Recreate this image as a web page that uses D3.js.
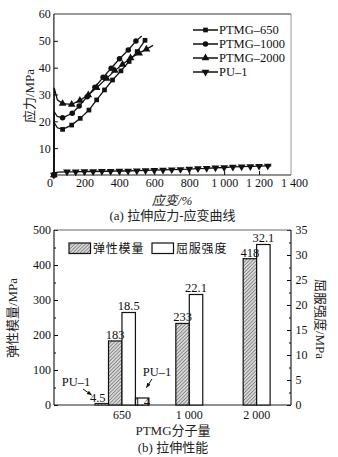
<!DOCTYPE html>
<html>
<head>
<meta charset="utf-8">
<script src="https://cdn.jsdelivr.net/npm/d3@7"></script>
<style>
  body { margin: 0; background: #fff; }
  svg { display: block; }
</style>
</head>
<body>
<main></main>
<script>
// ---- data: (a) stress-strain curves, [strain %, stress MPa]
const ptmg650 = [[25, 0], [27, 19.5], [45, 17.6], [75, 17], [127, 18.6], [176, 21.1], [226, 24.2], [270, 28], [315, 31.7], [361, 35.4], [409, 38.8], [456, 42.3], [502, 46], [547, 50.2]]
const ptmg1000 = [[25, 0], [27, 23.5], [45, 21.8], [75, 21.3], [130, 23], [170, 25.7], [216, 29.2], [260, 32.7], [307, 36.4], [353, 39.8], [401, 43.3], [451, 46.6], [495, 49.9], [528, 51.8]]
const ptmg2000 = [[25, 0], [27, 32.5], [45, 28], [75, 26.6], [127, 26.3], [174, 27.8], [222, 29.8], [270, 32.5], [327, 36], [374, 38.9], [418, 41.2], [464, 43.6], [513, 45.4], [555, 46.9], [593, 48.3]]
const pu1 = [[25, 0], [27, 0.8], [50, 1.1], [100, 1.2], [150, 1.2], [200, 1.3], [250, 1.3], [300, 1.4], [350, 1.4], [400, 1.5], [450, 1.5], [500, 1.6], [550, 1.7], [600, 1.8], [650, 1.9], [700, 2.0], [750, 2.1], [800, 2.2], [850, 2.4], [900, 2.5], [950, 2.7], [1000, 2.8], [1050, 3.0], [1100, 3.1], [1150, 3.2], [1200, 3.3], [1250, 3.4], [1270, 3.4]]
const seriesNames = ["PTMG–650", "PTMG–1000", "PTMG–2000", "PU–1"]
const strainTicks = [0, 200, 400, 600, 800, 1000, 1200, 1400]
const stressTicks = [10, 20, 30, 40, 50, 60]

// ---- data: (b) tensile properties
const mwLabels = ["650", "1 000", "2 000"]
const modulus = [183, 233, 418]
const yieldStrength = [18.5, 22.1, 32.1]
const pu1Modulus = 4.5
const pu1Yield = 1.4
const modulusTicks = [0, 100, 200, 300, 400, 500]
const yieldTicks = [0, 5, 10, 15, 20, 25, 30, 35]

const serif = "'Liberation Serif', 'Times New Roman', 'Noto Sans CJK SC', serif"
const W = 338, H = 457

const svg = d3.select("main").append("svg").attr("width", W).attr("height", H)
  .attr("font-family", serif)
svg.append("rect").attr("width", W).attr("height", H).attr("fill", "#fff")

const defs = svg.append("defs")
const hatch = defs.append("pattern").attr("id", "hatch")
  .attr("patternUnits", "userSpaceOnUse").attr("width", 2.5).attr("height", 2.5)
  .attr("patternTransform", "rotate(45)")
hatch.append("rect").attr("width", 2.5).attr("height", 2.5).attr("fill", "#d8d8d8")
hatch.append("line").attr("x1", 0).attr("y1", 0).attr("x2", 0).attr("y2", 2.5)
  .attr("stroke", "#444").attr("stroke-width", 1)

// ================= (a) =================
const x = d3.scaleLinear().domain([0, 1400]).range([49.5, 294])
const y = d3.scaleLinear().domain([0, 60]).range([175, 14])
const xL = x(25), xR = x(1383)

const gA = svg.append("g")

// axes (ticks inward)
const xAxisA = d3.axisBottom(x).tickValues(strainTicks).tickSizeInner(-4).tickSizeOuter(0).tickPadding(3.5)
  .tickFormat(d => d >= 1000 ? d3.format(",")(d).replace(",", " ") : d)
const gxA = gA.append("g").attr("transform", `translate(0,${y(0)})`).call(xAxisA)
gxA.select(".domain").remove()
gxA.selectAll("text").attr("font-size", 12).attr("font-family", serif).attr("fill", "#111")
gxA.selectAll(".tick").filter(d => d === 0 || d === 1400).select("line").remove()

const yAxisA = d3.axisLeft(y).tickValues(stressTicks).tickSizeInner(-4).tickSizeOuter(0).tickPadding(3)
const gyA = gA.append("g").attr("transform", `translate(${xL - x(0)},0)`).call(yAxisA)
gyA.attr("transform", `translate(${xL},0)`)
gyA.select(".domain").remove()
gyA.selectAll("text").attr("font-size", 12).attr("font-family", serif).attr("fill", "#111")
gyA.selectAll(".tick").filter(d => d === 60).select("line").remove()

// frame
gA.append("line").attr("x1", xL).attr("x2", xR).attr("y1", y(60)).attr("y2", y(60)).attr("stroke", "#999").attr("stroke-width", 2)
gA.append("line").attr("x1", xR).attr("x2", xR).attr("y1", y(60)).attr("y2", y(0)).attr("stroke", "#999").attr("stroke-width", 1)
gA.append("line").attr("x1", xL).attr("x2", xL).attr("y1", y(60)).attr("y2", y(0)).attr("stroke", "#222").attr("stroke-width", 1.2)
gA.append("line").attr("x1", xL).attr("x2", xR).attr("y1", y(0)).attr("y2", y(0)).attr("stroke", "#222").attr("stroke-width", 1.2)

const line = d3.line().x(d => x(d[0])).y(d => y(d[1]))
const symbols = [d3.symbolSquare, d3.symbolCircle, d3.symbolTriangle, d3.symbolTriangle]
const symSizes = [22, 24, 26, 26]
const rotations = [0, 0, 0, 180]
const allSeries = [ptmg650, ptmg1000, ptmg2000, pu1]

allSeries.forEach((data, i) => {
  gA.append("path").datum(data).attr("d", line).attr("fill", "none")
    .attr("stroke", "#111").attr("stroke-width", 1.3)
  // markers: skip the yield peak and the final line end
  const marked = data.filter((d, k) => k !== 1 && k !== 2 && !(i !== 0 && k === data.length - 1))
  gA.selectAll(null).data(marked).enter().append("path")
    .attr("d", d3.symbol().type(symbols[i]).size(symSizes[i]))
    .attr("transform", d => `translate(${x(d[0])},${y(d[1])}) rotate(${rotations[i]})`)
    .attr("fill", "#111")
})

// legend
const legA = gA.append("g")
seriesNames.forEach((name, i) => {
  const ly = 30 + i * 14
  legA.append("line").attr("x1", 193).attr("x2", 218).attr("y1", ly).attr("y2", ly)
    .attr("stroke", "#111").attr("stroke-width", 1.5)
  legA.append("path").attr("d", d3.symbol().type(symbols[i]).size(symSizes[i]))
    .attr("transform", `translate(205.5,${ly}) rotate(${rotations[i]})`).attr("fill", "#111")
  legA.append("text").attr("x", 219).attr("y", ly + 4.3).attr("font-size", 12.5).attr("fill", "#111").text(name)
})

gA.append("text").attr("transform", "translate(34,96) rotate(-90)").attr("text-anchor", "middle")
  .attr("font-size", 13).attr("fill", "#222").text("应力/MPa")
gA.append("text").attr("x", 172).attr("y", 204.5).attr("text-anchor", "middle")
  .attr("font-size", 13).attr("font-style", "italic").attr("fill", "#222").text("应变/%")
gA.append("text").attr("x", 172.5).attr("y", 220).attr("text-anchor", "middle")
  .attr("font-size", 13).attr("fill", "#222").text("(a) 拉伸应力-应变曲线")

// ================= (b) =================
const xb = d3.scaleBand().domain(mwLabels).range([88.3, 290.3]).padding(0)
const bw = xb.bandwidth() * 0.2
const yL = d3.scaleLinear().domain([0, 500]).range([405, 230])
const yR = d3.scaleLinear().domain([0, 35]).range([405, 230])
const bL = 54, bR = 291
const cx = k => xb(k) + xb.bandwidth() / 2

const gB = svg.append("g")

const gyL = gB.append("g").attr("transform", `translate(${bL},0)`)
  .call(d3.axisLeft(yL).tickValues(modulusTicks).tickSizeInner(-4).tickSizeOuter(0).tickPadding(3))
gyL.select(".domain").remove()
gyL.selectAll("text").attr("font-size", 12).attr("font-family", serif).attr("fill", "#111")
gB.append("g").attr("transform", `translate(${bL},0)`)
  .call(d3.axisLeft(yL).tickValues([50, 150, 250, 350, 450]).tickSizeInner(-2).tickSizeOuter(0).tickFormat(""))
  .select(".domain").remove()

const gyR = gB.append("g").attr("transform", `translate(${bR},0)`)
  .call(d3.axisRight(yR).tickValues(yieldTicks).tickSizeInner(-4).tickSizeOuter(0).tickPadding(4.5))
gyR.select(".domain").remove()
gyR.selectAll("text").attr("font-size", 12).attr("font-family", serif).attr("fill", "#111")
gB.append("g").attr("transform", `translate(${bR},0)`)
  .call(d3.axisRight(yR).tickValues([2.5, 7.5, 12.5, 17.5, 22.5, 27.5, 32.5]).tickSizeInner(-2).tickSizeOuter(0).tickFormat(""))
  .select(".domain").remove()

const gxB = gB.append("g").attr("transform", `translate(0,${yL(0)})`)
  .call(d3.axisBottom(xb).tickSizeInner(-3).tickSizeOuter(0).tickPadding(5))
gxB.select(".domain").remove()
gxB.selectAll("text").attr("font-size", 12).attr("font-family", serif).attr("fill", "#111")

// frame
gB.append("line").attr("x1", bL).attr("x2", bR).attr("y1", yL(500)).attr("y2", yL(500)).attr("stroke", "#666").attr("stroke-width", 1)
gB.append("line").attr("x1", bL).attr("x2", bL).attr("y1", yL(500)).attr("y2", yL(0)).attr("stroke", "#222").attr("stroke-width", 1.2)
gB.append("line").attr("x1", bR).attr("x2", bR).attr("y1", yL(500)).attr("y2", yL(0)).attr("stroke", "#222").attr("stroke-width", 1.2)
gB.append("line").attr("x1", bL).attr("x2", bR).attr("y1", yL(0)).attr("y2", yL(0)).attr("stroke", "#222").attr("stroke-width", 1.2)

// bars
gB.selectAll(".mod").data(mwLabels).enter().append("rect")
  .attr("x", (d) => cx(d) - bw).attr("width", bw)
  .attr("y", (d, i) => yL(modulus[i])).attr("height", (d, i) => yL(0) - yL(modulus[i]))
  .attr("fill", "url(#hatch)").attr("stroke", "#111").attr("stroke-width", 1.2)
gB.selectAll(".yld").data(mwLabels).enter().append("rect")
  .attr("x", (d) => cx(d)).attr("width", bw)
  .attr("y", (d, i) => yR(yieldStrength[i])).attr("height", (d, i) => yR(0) - yR(yieldStrength[i]))
  .attr("fill", "#fff").attr("stroke", "#111").attr("stroke-width", 1.2)

// PU-1 bars beside the 650 group
const c0 = cx(mwLabels[0])
gB.append("rect").attr("x", c0 - 2 * bw).attr("width", bw)
  .attr("y", yL(pu1Modulus)).attr("height", yL(0) - yL(pu1Modulus))
  .attr("fill", "url(#hatch)").attr("stroke", "#111").attr("stroke-width", 1)
gB.append("rect").attr("x", c0 + bw).attr("width", bw)
  .attr("y", yR(pu1Yield)).attr("height", yR(0) - yR(pu1Yield))
  .attr("fill", "#fff").attr("stroke", "#111").attr("stroke-width", 1.2)

// value labels
mwLabels.forEach((k, i) => {
  gB.append("text").attr("x", cx(k) - bw / 2).attr("y", yL(modulus[i]) - 2)
    .attr("text-anchor", "middle").attr("font-size", 12.5).attr("fill", "#111").text(modulus[i])
  gB.append("text").attr("x", cx(k) + bw / 2).attr("y", yR(yieldStrength[i]) - 2.5)
    .attr("text-anchor", "middle").attr("font-size", 12.5).attr("fill", "#111").text(yieldStrength[i])
})
gB.append("text").attr("x", c0 - 1.5 * bw - 4).attr("y", yL(pu1Modulus) - 1.5)
  .attr("text-anchor", "middle").attr("font-size", 12.5).attr("fill", "#111").text(pu1Modulus)
gB.append("text").attr("x", c0 + 1.5 * bw).attr("y", yR(pu1Yield) + 7.5)
  .attr("text-anchor", "middle").attr("font-size", 12.5).attr("fill", "#111").text(pu1Yield)

// PU-1 annotations with arrows
defs.append("marker").attr("id", "arr").attr("viewBox", "0 0 10 10").attr("refX", 9).attr("refY", 5)
  .attr("markerWidth", 5).attr("markerHeight", 5).attr("orient", "auto")
  .append("path").attr("d", "M0,1 L10,5 L0,9 Z").attr("fill", "#111")
gB.append("text").attr("x", 76).attr("y", 386).attr("text-anchor", "middle")
  .attr("font-size", 12.5).attr("fill", "#111").text("PU–1")
gB.append("line").attr("x1", 83).attr("y1", 389).attr("x2", 91.5).attr("y2", 395)
  .attr("stroke", "#111").attr("stroke-width", 1).attr("marker-end", "url(#arr)")
gB.append("text").attr("x", 157).attr("y", 376).attr("text-anchor", "middle")
  .attr("font-size", 12.5).attr("fill", "#111").text("PU–1")
gB.append("line").attr("x1", 152).attr("y1", 379).attr("x2", 146.5).attr("y2", 387.5)
  .attr("stroke", "#111").attr("stroke-width", 1).attr("marker-end", "url(#arr)")

// legend
const legB = gB.append("g")
legB.append("rect").attr("x", 69).attr("y", 243).attr("width", 21.5).attr("height", 10.5)
  .attr("fill", "url(#hatch)").attr("stroke", "#111").attr("stroke-width", 1.2)
legB.append("text").attr("x", 93).attr("y", 252.8).attr("font-size", 12).attr("letter-spacing", 0.8)
  .attr("fill", "#111").text("弹性模量")
legB.append("rect").attr("x", 152).attr("y", 243).attr("width", 21.5).attr("height", 10.5)
  .attr("fill", "#fff").attr("stroke", "#111").attr("stroke-width", 1.2)
legB.append("text").attr("x", 176).attr("y", 252.8).attr("font-size", 12).attr("letter-spacing", 0.8)
  .attr("fill", "#111").text("屈服强度")

gB.append("text").attr("transform", "translate(17,318) rotate(-90)").attr("text-anchor", "middle")
  .attr("font-size", 13).attr("fill", "#222").text("弹性模量/MPa")
gB.append("text").attr("transform", "translate(315.5,319) rotate(90)").attr("text-anchor", "middle")
  .attr("font-size", 13).attr("fill", "#222").text("屈服强度/MPa")
gB.append("text").attr("x", 173).attr("y", 434.5).attr("text-anchor", "middle")
  .attr("font-size", 13).attr("fill", "#222").text("PTMG分子量")
gB.append("text").attr("x", 173).attr("y", 452).attr("text-anchor", "middle")
  .attr("font-size", 13).attr("fill", "#222").text("(b) 拉伸性能")
</script>
</body>
</html>
